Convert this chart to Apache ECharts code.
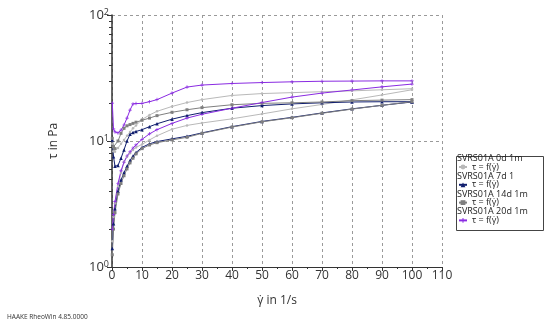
<!DOCTYPE html>
<html>
<head>
<meta charset="utf-8">
<script src="https://cdn.jsdelivr.net/npm/echarts@6/dist/echarts.min.js"></script>
<style>html,body{margin:0;padding:0;background:#fff;}#c{width:550px;height:327px;}</style>
</head>
<body>
<div id="c"></div>
<script>
// Shear rate sampling points (1/s)
const shearRate = [0.1, 0.5, 1, 2, 3, 4, 5, 6, 7, 8, 10, 12.5, 15, 20, 25, 30, 40, 50, 60, 70, 80, 90, 100];
// Series names
const seriesNames = ['SVRS01A 0d 1m', 'SVRS01A 7d 1', 'SVRS01A 14d 1m', 'SVRS01A 20d 1m'];
// Shear stress (Pa) – upper (ramp down) and lower (ramp up) branches
const tau0dUpper  = [9.5, 8.3, 8.2, 8.8, 9.5, 10.2, 11, 11.8, 12.6, 13.3, 14.8, 16.1, 17.2, 18.8, 20.2, 21.3, 23, 23.8, 24.2, 24.6, 25, 25.5, 26];
const tau0dLower  = [1.6, 2.5, 3.2, 4.4, 5.6, 6.8, 7.5, 8, 8.5, 8.9, 9.4, 10.2, 11, 12.4, 13.3, 13.9, 15, 16.4, 18, 19.5, 21.2, 23.2, 25.5];
const tau7dUpper  = [10.2, 7.5, 6.3, 6.4, 7.3, 8.5, 10, 11.3, 11.7, 11.9, 12.3, 13, 13.7, 14.9, 15.9, 16.8, 18.2, 19.1, 19.7, 20.1, 20.4, 20.5, 20.5];
const tau7dLower  = [1.4, 2.2, 2.9, 4, 4.9, 5.6, 6.3, 7, 7.6, 8.1, 8.9, 9.5, 9.9, 10.4, 10.9, 11.6, 13, 14.3, 15.4, 16.7, 18, 19.2, 20.4];
const tau14dUpper = [10.5, 9, 8.7, 10, 11.5, 12.6, 13.2, 13.5, 13.8, 14.1, 14.6, 15.2, 15.9, 16.9, 17.7, 18.4, 19.4, 19.9, 20.1, 20.4, 20.9, 21.1, 21.3];
const tau14dLower = [1.25, 2, 2.7, 3.8, 4.6, 5.3, 6, 6.7, 7.3, 7.9, 8.7, 9.3, 9.7, 10.2, 10.7, 11.5, 12.9, 14.2, 15.3, 16.6, 17.9, 19.2, 20.5];
const tau20dUpper = [20, 12.5, 11.8, 11.6, 12.2, 13.4, 15.2, 17.6, 19.7, 19.8, 19.9, 20.5, 21.3, 24, 26.8, 27.8, 28.6, 29.1, 29.5, 29.8, 29.9, 30, 30];
const tau20dLower = [2.0, 2.6, 3.3, 4.6, 5.8, 6.8, 7.6, 8.2, 8.8, 9.3, 10.3, 11.4, 12.3, 13.8, 15.2, 16.3, 18.2, 20.2, 22.3, 24, 25.4, 26.9, 28.3];
// Axis ticks
const xTicks = [0, 10, 20, 30, 40, 50, 60, 70, 80, 90, 100, 110];
const yMinorTicks = [2, 3, 4, 5, 6, 7, 8, 9, 20, 30, 40, 50, 60, 70, 80, 90];
const supDigits = {1: '0', 10: '1', 100: '2'};

const FONT = 'Open Sans';
const pairs = arr => shearRate.map((x, i) => [x, arr[i]]);

const styles = [
  {color: '#b9b9b9', symbol: 'circle', size: 2.5},
  {color: '#101e6e', symbol: 'triangle', size: 3.5},
  {color: '#7f7f7f', symbol: 'rect', size: 3},
  {color: '#8a2be2', symbol: 'path://M0,4L10,4L10,6L0,6Z M4,0L6,0L6,10L4,10Z', size: 3.5}
];
const branches = [
  [tau0dUpper, tau0dLower],
  [tau7dUpper, tau7dLower],
  [tau14dUpper, tau14dLower],
  [tau20dUpper, tau20dLower]
];
const series = [];
branches.forEach((b, k) => {
  b.forEach(arr => {
    series.push({
      type: 'line',
      name: seriesNames[k],
      data: pairs(arr),
      showSymbol: true,
      symbol: styles[k].symbol,
      symbolSize: styles[k].size,
      lineStyle: {color: styles[k].color, width: 1},
      itemStyle: {color: styles[k].color},
      emphasis: {disabled: true},
      animation: false
    });
  });
});

const chart = echarts.init(document.getElementById('c'));
chart.setOption({
  backgroundColor: '#fff',
  animation: false,
  textStyle: {fontFamily: FONT},
  grid: {left: 112, right: 108, top: 15, bottom: 60, outerBoundsMode: 'none', containLabel: false},
  xAxis: {
    type: 'value', min: 0, max: 110, interval: 10,
    name: 'γ̇ in 1/s', nameLocation: 'middle', nameGap: 28,
    nameTextStyle: {fontFamily: FONT, fontSize: 12, color: '#333'},
    axisLine: {show: true, onZero: false, lineStyle: {color: '#333', width: 1}},
    axisTick: {show: true, length: 4, lineStyle: {color: '#333'}},
    minorTick: {show: true, splitNumber: 2, length: 2, lineStyle: {color: '#333'}},
    axisLabel: {fontFamily: FONT, fontSize: 12, color: '#333', margin: 3,
      formatter: v => xTicks.includes(v) ? String(v) : ''},
    splitLine: {show: true, lineStyle: {color: '#9a9a9a', type: [3, 3], width: 1}}
  },
  yAxis: [{
    type: 'log', logBase: 10, min: 1, max: 100,
    name: 'τ in Pa', nameLocation: 'middle', nameGap: 52, nameRotate: 90,
    nameTextStyle: {fontFamily: FONT, fontSize: 12, color: '#333'},
    axisLine: {show: true, lineStyle: {color: '#333', width: 1.5}},
    axisTick: {show: true, length: 5, lineStyle: {color: '#333'}},
    axisLabel: {
      color: '#333', margin: 3,
      formatter: v => '{b|10}{s|' + (supDigits[v] || '') + '}',
      rich: {
        b: {fontFamily: FONT, fontSize: 13, color: '#333'},
        s: {fontFamily: FONT, fontSize: 9, color: '#333', verticalAlign: 'top', padding: [0, 0, 6, 0]}
      }
    },
    splitLine: {show: true, lineStyle: {color: '#9a9a9a', type: [3, 3], width: 1}}
  }, {
    type: 'log', logBase: 10, min: 1, max: 100, position: 'left',
    axisLine: {show: false},
    axisLabel: {show: false},
    splitLine: {show: false},
    axisTick: {show: true, length: 3, customValues: yMinorTicks, lineStyle: {color: '#333'}}
  }],
  legend: [{
    orient: 'vertical', left: 452, top: 153.5,
    icon: 'none', itemWidth: 0, itemHeight: 10, itemGap: 7.8, padding: 0,
    data: seriesNames,
    textStyle: {fontFamily: FONT, fontSize: 9, color: '#222', lineHeight: 10},
    selectedMode: false
  }, {
    orient: 'vertical', left: 458, top: 162,
    itemWidth: 8, itemHeight: 6, itemGap: 7.8, padding: 0,
    data: seriesNames,
    formatter: () => 'τ = f(γ̇)',
    textStyle: {fontFamily: FONT, fontSize: 9, color: '#222', lineHeight: 10},
    selectedMode: false
  }],
  graphic: [
    {type: 'rect', left: 454, top: 154, shape: {width: 87, height: 74},
      style: {fill: 'none', stroke: '#444', lineWidth: 1}, silent: true},
    {type: 'text', left: 7, top: 314,
      style: {text: 'HAAKE RheoWin 4.85.0000', fontFamily: FONT, fontSize: 6.5, fill: '#333'}}
  ],
  series: series
});
</script>
</body>
</html>
